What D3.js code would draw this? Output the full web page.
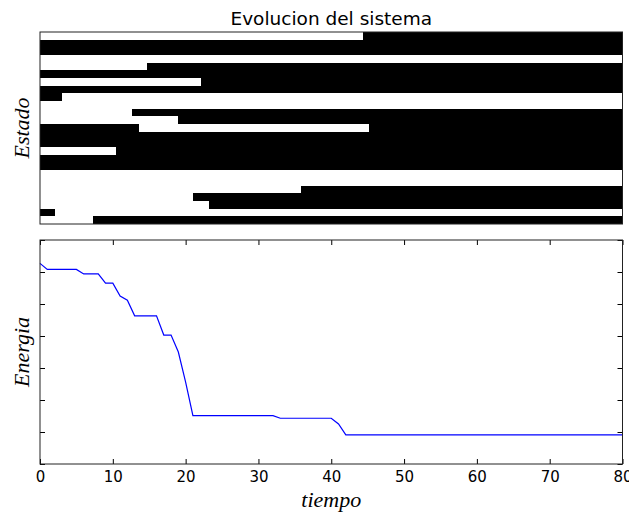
<!DOCTYPE html>
<html>
<head>
<meta charset="utf-8">
<script src="https://cdn.jsdelivr.net/npm/d3@7"></script>
<style>
  html, body { margin: 0; padding: 0; background: #fff; }
  svg { display: block; }
  .tick text { font-family: "DejaVu Sans", sans-serif; font-size: 15px; fill: #000; }
</style>
</head>
<body>
<svg id="chart" width="629" height="515"></svg>
<script>
// Time axis (shared by both panels)
const tiempoDominio = [0, 80];
const tiempoTicks = [0, 10, 20, 30, 40, 50, 60, 70, 80];

// State of each unit over time: intervals [t0, t1] during which the unit is "on" (black)
const estados = [
  [[44.3, 80]],
  [[0, 80]],
  [[0, 80]],
  [],
  [[14.7, 80]],
  [[0, 80]],
  [[22.1, 80]],
  [[0, 80]],
  [[0, 3]],
  [],
  [[12.6, 80]],
  [[18.9, 80]],
  [[0, 13.6], [45.2, 80]],
  [[0, 80]],
  [[0, 80]],
  [[10.5, 80]],
  [[0, 80]],
  [[0, 80]],
  [],
  [],
  [[35.8, 80]],
  [[21, 80]],
  [[23.2, 80]],
  [[0, 2]],
  [[7.3, 80]]
];

// Energy of the system at each time step t = 0..80
const energia = [
  -17.3, -19.2, -19.2, -19.2, -19.2, -19.2, -20.6, -20.6, -20.6, -23.5,
  -23.5, -27.5, -28.8, -33.7, -33.7, -33.7, -33.7, -39.7, -39.7, -45.0,
  -54.4, -64.9, -64.9, -64.9, -64.9, -64.9, -64.9, -64.9, -64.9, -64.9,
  -64.9, -64.9, -64.9, -65.7, -65.7, -65.7, -65.7, -65.7, -65.7, -65.7,
  -65.7, -67.5, -70.9, -70.9, -70.9, -70.9, -70.9, -70.9, -70.9, -70.9,
  -70.9, -70.9, -70.9, -70.9, -70.9, -70.9, -70.9, -70.9, -70.9, -70.9,
  -70.9, -70.9, -70.9, -70.9, -70.9, -70.9, -70.9, -70.9, -70.9, -70.9,
  -70.9, -70.9, -70.9, -70.9, -70.9, -70.9, -70.9, -70.9, -70.9, -70.9,
  -70.9
];
const energiaDominio = [-80, -10];
const energiaTicks = [-80, -70, -60, -50, -40, -30, -20, -10];

const svg = d3.select("#chart");
svg.append("rect").attr("width", 629).attr("height", 515).attr("fill", "#fff");

const left = 40, right = 622.5;
const top1 = 32, bottom1 = 224;
const top2 = 240, bottom2 = 464;

const x = d3.scaleLinear().domain(tiempoDominio).range([left, right]);

// ---- Upper panel: state evolution ----
const rowScale = d3.scaleBand()
  .domain(d3.range(estados.length))
  .range([top1, bottom1])
  .padding(0);

const segs = estados.flatMap((row, i) => row.map(([a, b]) => ({ row: i, a, b })));

const panel1 = svg.append("g");
panel1.selectAll("rect.seg")
  .data(segs)
  .join("rect")
  .attr("class", "seg")
  .attr("x", d => x(d.a))
  .attr("width", d => x(d.b) - x(d.a))
  .attr("y", d => rowScale(d.row))
  .attr("height", rowScale.bandwidth())
  .attr("fill", "#000")
  .attr("shape-rendering", "crispEdges");

panel1.append("rect")
  .attr("x", left).attr("y", top1)
  .attr("width", right - left).attr("height", bottom1 - top1)
  .attr("fill", "none").attr("stroke", "#222").attr("stroke-width", 1);

svg.append("text")
  .attr("x", (left + right) / 2).attr("y", 25)
  .attr("text-anchor", "middle")
  .attr("font-family", "DejaVu Sans, sans-serif")
  .attr("font-size", 18.5)
  .text("Evolucion del sistema");

svg.append("text")
  .attr("transform", `translate(29,${(top1 + bottom1) / 2}) rotate(-90)`)
  .attr("text-anchor", "middle")
  .attr("font-family", "Liberation Serif, serif")
  .attr("font-style", "italic")
  .attr("font-size", 22)
  .text("Estado");

// ---- Lower panel: energy ----
const y = d3.scaleLinear().domain(energiaDominio).range([bottom2, top2]);

const panel2 = svg.append("g");

const axB = panel2.append("g")
  .attr("transform", `translate(0,${bottom2})`)
  .call(d3.axisBottom(x).tickValues(tiempoTicks).tickSize(-5).tickPadding(7).tickFormat(d3.format("d")));
const axT = panel2.append("g")
  .attr("transform", `translate(0,${top2})`)
  .call(d3.axisTop(x).tickValues(tiempoTicks).tickSize(-5).tickFormat(""));
const axL = panel2.append("g")
  .attr("transform", `translate(${left},0)`)
  .call(d3.axisLeft(y).tickValues(energiaTicks).tickSize(-5).tickFormat(""));
const axR = panel2.append("g")
  .attr("transform", `translate(${right},0)`)
  .call(d3.axisRight(y).tickValues(energiaTicks).tickSize(-5).tickFormat(""));
[axB, axT, axL, axR].forEach(g => {
  g.select(".domain").remove();
  g.selectAll(".tick line").attr("stroke", "#000");
});

const line = d3.line()
  .x((d, i) => x(i))
  .y(d => y(d));

panel2.append("path")
  .datum(energia)
  .attr("d", line)
  .attr("fill", "none")
  .attr("stroke", "#0000ff")
  .attr("stroke-width", 1.2);

panel2.append("rect")
  .attr("x", left).attr("y", top2)
  .attr("width", right - left).attr("height", bottom2 - top2)
  .attr("fill", "none").attr("stroke", "#222").attr("stroke-width", 1);

svg.append("text")
  .attr("x", (left + right) / 2).attr("y", 507)
  .attr("text-anchor", "middle")
  .attr("font-family", "Liberation Serif, serif")
  .attr("font-style", "italic")
  .attr("font-size", 22)
  .text("tiempo");

svg.append("text")
  .attr("transform", `translate(29,${(top2 + bottom2) / 2}) rotate(-90)`)
  .attr("text-anchor", "middle")
  .attr("font-family", "Liberation Serif, serif")
  .attr("font-style", "italic")
  .attr("font-size", 22)
  .text("Energia");
</script>
</body>
</html>
